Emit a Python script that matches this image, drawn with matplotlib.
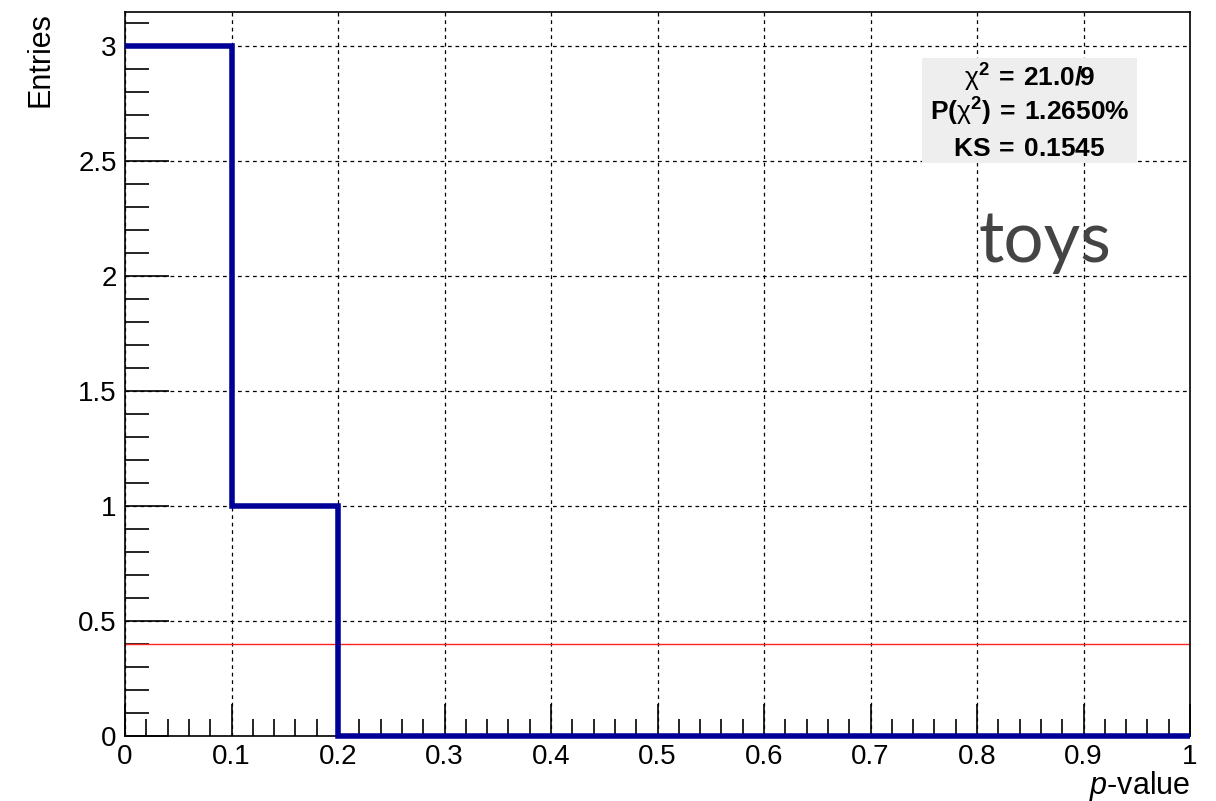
import numpy as np
import matplotlib
matplotlib.use("Agg")
import matplotlib.pyplot as plt
from matplotlib.ticker import MultipleLocator, FuncFormatter

# Histogram of p-values from toy experiments
bin_edges = [0.0, 0.1, 0.2, 0.3, 0.4, 0.5, 0.6, 0.7, 0.8, 0.9, 1.0]
entries = [3, 1, 0, 0, 0, 0, 0, 0, 0, 0]
expected = 0.4

x_ticks = [0, 0.1, 0.2, 0.3, 0.4, 0.5, 0.6, 0.7, 0.8, 0.9, 1]
y_ticks = [0, 0.5, 1, 1.5, 2, 2.5, 3]
stat_lines = [r"$\mathrm{χ}^{\mathbf{2}}\:\mathbf{=}\:\mathbf{21.0/9}$",
              r"$\mathbf{P(}\mathrm{χ}^{\mathbf{2}}\mathbf{)}\:\mathbf{=}\:\mathbf{1.2650\%}$",
              r"$\mathbf{KS}\:\mathbf{=}\:\mathbf{0.1545}$"]

plt.rcParams["font.family"] = ["Liberation Sans", "DejaVu Sans"]
plt.rcParams["mathtext.fontset"] = "custom"
plt.rcParams["mathtext.rm"] = "Liberation Sans"
plt.rcParams["mathtext.it"] = "Liberation Sans:italic"
plt.rcParams["mathtext.bf"] = "Liberation Sans:bold"

fig = plt.figure(figsize=(12.16, 8.01), dpi=100)
ax = fig.add_axes([125 / 1216, 1 - 736 / 801, (1190 - 125) / 1216, (736 - 12) / 801])

ax.set_xlim(0, 1)
ax.set_ylim(0, 3.15)

# grid
ax.set_axisbelow(True)
ax.grid(True, which="major", color="black", linestyle=(0, (3, 3)), linewidth=0.9)

# expected level
ax.axhline(expected, color="#ff2020", linewidth=1.0, zorder=2)

# histogram outline
ax.stairs(entries, bin_edges, baseline=None, color="#000099", linewidth=4.0,
          zorder=3, clip_on=False)

# ticks
ax.set_xticks(x_ticks)
ax.set_yticks(y_ticks)
ax.xaxis.set_minor_locator(MultipleLocator(0.02))
ax.yaxis.set_minor_locator(MultipleLocator(0.1))

def fmt(v, pos):
    return f"{v:g}"

ax.xaxis.set_major_formatter(FuncFormatter(fmt))
ax.yaxis.set_major_formatter(FuncFormatter(fmt))

ax.tick_params(axis="both", which="both", direction="in", labelsize=20, color="black")
ax.tick_params(axis="x", which="major", length=23, width=1.2, pad=6)
ax.tick_params(axis="x", which="minor", length=12, width=1.2)
ax.tick_params(axis="y", which="major", length=32, width=1.2, pad=6)
ax.tick_params(axis="y", which="minor", length=17, width=1.2)
ax.tick_params(top=False, right=False, which="both")

for sp in ax.spines.values():
    sp.set_linewidth(1.2)

ax.set_xlabel("$p$-value", fontsize=22, loc="right", labelpad=-1)
ax.set_ylabel("Entries", fontsize=22, loc="top", labelpad=16)

# statistics box
box_x0, box_x1 = 922 / 1216, 1137 / 1216
box_y1, box_y0 = 1 - 58 / 801, 1 - 163 / 801
fig.patches.append(plt.Rectangle((box_x0, box_y0), box_x1 - box_x0, box_y1 - box_y0,
                                 transform=fig.transFigure, facecolor="#eeeeee",
                                 edgecolor="none", zorder=5))
cx = (box_x0 + box_x1) / 2
for i, line in enumerate(stat_lines):
    ypix = 78 + i * 34 + (3 if i == 2 else 0)
    fig.text(cx, 1 - ypix / 801, line, ha="center", va="center",
             fontsize=19, zorder=6)

fig.text(978 / 1216, 1 - 262 / 801, "toys", fontsize=51, color="#444444",
         family=["Lato", "DejaVu Sans"], ha="left", va="baseline")

fig.savefig("out.png", dpi=100, facecolor="white")
